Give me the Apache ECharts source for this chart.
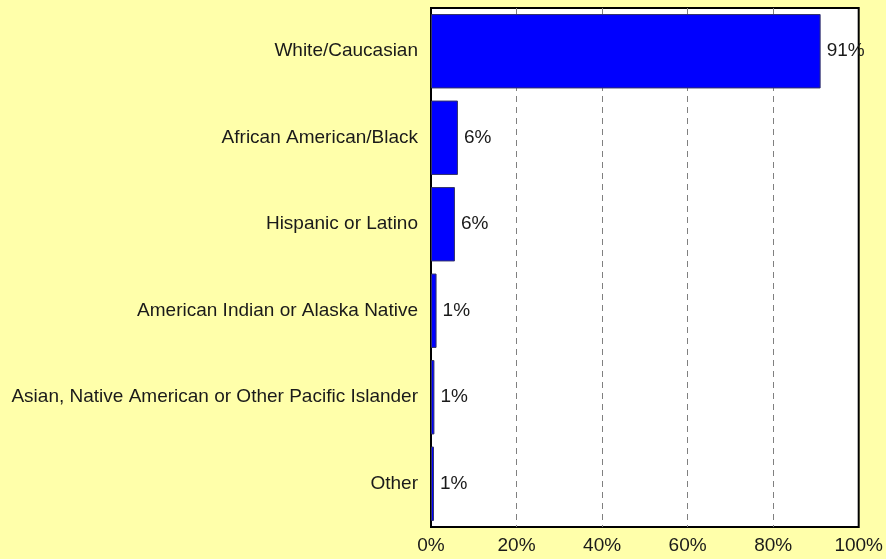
<!DOCTYPE html>
<html>
<head>
<meta charset="utf-8">
<script src="https://cdn.jsdelivr.net/npm/echarts@6/dist/echarts.min.js"></script>
<style>
  html, body { margin: 0; padding: 0; background: #ffffaa; }
  #chart { width: 886px; height: 559px; }
</style>
</head>
<body>
<div id="chart"></div>
<script>
// categories listed top to bottom
var categories = [
  'White/Caucasian',
  'African American/Black',
  'Hispanic or Latino',
  'American Indian or Alaska Native',
  'Asian, Native American or Other Pacific Islander',
  'Other'
];
var values = [91.1, 6.3, 5.6, 1.3, 0.8, 0.7];
var labels = ['91%', '6%', '6%', '1%', '1%', '1%'];

var chart = echarts.init(document.getElementById('chart'));
chart.setOption({
  backgroundColor: '#ffffaa',
  animation: false,
  textStyle: { fontFamily: 'Liberation Sans, Arial, sans-serif' },
  grid: { left: 431, right: 26, top: 8, bottom: 32, containLabel: false,
          show: true, backgroundColor: '#ffffff', borderColor: '#000', borderWidth: 2 },
  xAxis: {
    type: 'value', min: 0, max: 100, interval: 20,
    axisLine: { show: false },
    axisTick: { show: false },
    axisLabel: { formatter: '{value}%', color: '#1a1a1a', fontSize: 19, margin: 9 },
    splitLine: { showMinLine: false, showMaxLine: false,
                 lineStyle: { color: '#808080', type: [6, 5], width: 1 } }
  },
  yAxis: {
    type: 'category', inverse: true, data: categories,
    axisLine: { show: false },
    axisTick: { show: false },
    axisLabel: { color: '#1a1a1a', fontSize: 19, margin: 13 }
  },
  series: [{
    type: 'bar',
    data: values,
    barCategoryGap: '14%',
    itemStyle: { color: '#0000ff', borderColor: '#333366', borderWidth: 1 },
    label: {
      show: true, position: 'right', distance: 6, color: '#1a1a1a', fontSize: 19,
      formatter: function (p) { return labels[p.dataIndex]; }
    }
  }]
});
</script>
</body>
</html>
